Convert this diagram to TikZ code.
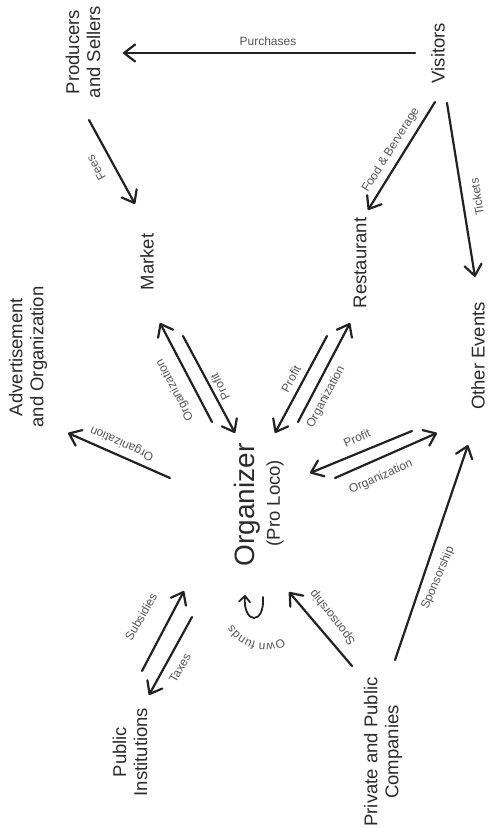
\documentclass[tikz,border=0pt]{standalone}
\usepackage{fontspec}
\setmainfont{Liberation Sans}
\usetikzlibrary{arrows.meta,decorations.text}
\definecolor{txt}{HTML}{2B2B2B}
\definecolor{lab}{HTML}{555555}
\definecolor{ln}{HTML}{222222}
\begin{document}
\begin{tikzpicture}[x=1pt,y=-1pt,
  ent/.style={rotate=90,align=center,text=txt,inner sep=0pt,font=\fontsize{18.5}{21}\selectfont},
  lbl/.style={text=lab,inner sep=0pt,font=\fontsize{12}{14}\selectfont},
  flow/.style={draw=ln,line width=2.2pt,line cap=round,-{Straight Barb[length=11pt,width=17pt,round]}}]
\fill[white] (0,0) rectangle (488,828);
\useasboundingbox (0,0) rectangle (488,828);

% entities
\node[ent] (prod) at (83,52) {Producers\\and Sellers};
\node[ent] (vis) at (438,53) {Visitors};
\node[ent] (market) at (147,262) {Market};
\node[ent] (rest) at (360,263) {Restaurant};
\node[ent] (oe) at (478,356) {Other Events};
\node[ent] (adv) at (28,357) {Advertisement\\and Organization};
\node[ent,font=\fontsize{28}{30}\selectfont] (org) at (247,505) {Organizer};
\node[ent] (proloco) at (275,503) {(Pro Loco)};
\node[ent] (pub) at (130,752) {Public\\Institutions};
\node[ent] (comp) at (383,752) {Private and Public\\Companies};

% connector end points
\coordinate (purA) at (415,53);  \coordinate (purB) at (123,53);
\coordinate (feeA) at (89,120);  \coordinate (feeB) at (135,204);
\coordinate (fbA) at (435,102);  \coordinate (fbB) at (368,210);
\coordinate (tkA) at (447,103);  \coordinate (tkB) at (475,277);
\coordinate (moA) at (212,422);  \coordinate (moB) at (160,323);
\coordinate (mpA) at (183,336);  \coordinate (mpB) at (235,433);
\coordinate (rpA) at (327,336);  \coordinate (rpB) at (275,433);
\coordinate (roA) at (298,422);  \coordinate (roB) at (350,323);
\coordinate (epA) at (412,431);  \coordinate (epB) at (310,473);
\coordinate (eoA) at (335,478);  \coordinate (eoB) at (437,433);
\coordinate (adA) at (170,478);  \coordinate (adB) at (68,433);
\coordinate (suA) at (142,671);  \coordinate (suB) at (184,591);
\coordinate (txA) at (192,617);  \coordinate (txB) at (149,695);
\coordinate (s1A) at (352,666);  \coordinate (s1B) at (289,592);
\coordinate (s2A) at (395,660);  \coordinate (s2B) at (468,445);
\coordinate (ofA) at (263,597);  \coordinate (ofB) at (245,595);

% connectors
\draw[flow] (purA) -- (purB);
\draw[flow] (feeA) -- (feeB);
\draw[flow] (fbA) -- (fbB);
\draw[flow] (tkA) -- (tkB);
\draw[flow] (moA) -- (moB);
\draw[flow] (mpA) -- (mpB);
\draw[flow] (rpA) -- (rpB);
\draw[flow] (roA) -- (roB);
\draw[flow] (epA) -- (epB);
\draw[flow] (eoA) -- (eoB);
\draw[flow] (adA) -- (adB);
\draw[flow] (suA) -- (suB);
\draw[flow] (txA) -- (txB);
\draw[flow] (s1A) -- (s1B);
\draw[flow] (s2A) -- (s2B);
\draw[draw=ln,line width=1.8pt,line cap=round,-{Straight Barb[length=6pt,width=11pt,round]}]
  (ofA) .. controls (265,625) and (243,625) .. (ofB);

% labels
\node[lbl] (lpur) at (268,41) {Purchases};
\node[lbl,rotate=119] (lfee) at (96,168) {Fees};
\node[lbl,rotate=58] (lfb) at (391,150) {Food \& Berverage};
\node[lbl,rotate=99] (ltk) at (477,197) {Tickets};
\node[lbl,rotate=117.7] (lmo) at (175,390) {Organization};
\node[lbl,rotate=117.7] (lmp) at (220,387) {Profit};
\node[lbl,rotate=62] (lrp) at (291,379) {Profit};
\node[lbl,rotate=62] (lro) at (326,397) {Organization};
\node[lbl,rotate=24] (lep) at (357,438) {Profit};
\node[lbl,rotate=24] (leo) at (381,477) {Organization};
\node[lbl,rotate=156] (lad) at (122,443) {Organization};
\node[lbl,rotate=60] (lsu) at (141,617) {Subsidies};
\node[lbl,rotate=60] (ltx) at (180,668) {Taxes};
\node[lbl,rotate=128] (ls1) at (333,617) {Sponsorship};
\node[lbl,rotate=67] (ls2) at (438,578) {Sponsorship};
\path[decorate,decoration={text along path,text align=center,
  text={|\fontsize{12}{14}\selectfont\color{lab}|Own funds}}]
  (265,605) ++(61:38) arc[start angle=61,end angle=149,radius=38];
\end{tikzpicture}
\end{document}
